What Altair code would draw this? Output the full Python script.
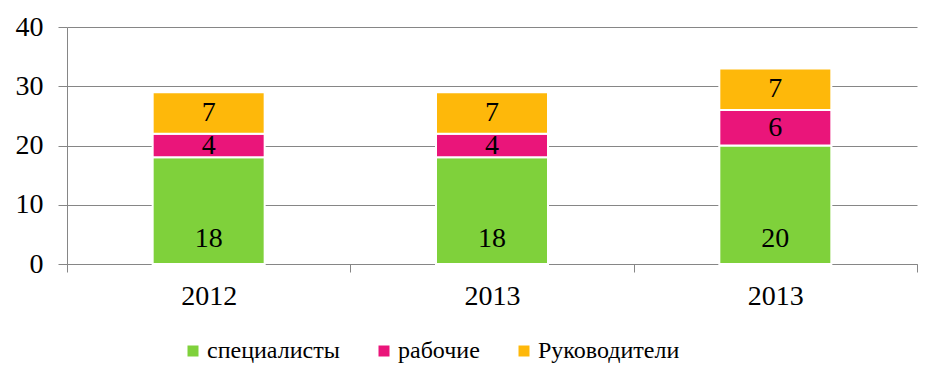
import altair as alt
import pandas as pd

tick_labels = ["2012", "2013", "2013"]
series = ["специалисты", "рабочие", "Руководители"]
colors = ["#7FD13B", "#EA157A", "#FEB80A"]
spec_vals = [18, 18, 20]
rab_vals = [4, 4, 6]
ruk_vals = [7, 7, 7]

rows = []
for i, lab in enumerate(tick_labels):
    start = 0
    for s_i, (name, vals) in enumerate(zip(series, [spec_vals, rab_vals, ruk_vals])):
        v = vals[i]
        rows.append({"idx": i, "series": name, "order": s_i, "value": v,
                     "start": start, "end": start + v, "mid": start + v / 2})
        start += v
df = pd.DataFrame(rows)

FONT = "Liberation Serif"
label_expr = "[" + ",".join(f"'{t}'" for t in tick_labels) + "][datum.value]"

x = alt.X("idx:O", scale=alt.Scale(paddingInner=0, paddingOuter=0),
          axis=alt.Axis(title=None, labelAngle=0, labelExpr=label_expr,
                        tickBand="extent", tickSize=8, labelPadding=10,
                        labelFont=FONT, labelFontSize=28, labelColor="#000000",
                        domainColor="#868686", tickColor="#868686"))
y_scale = alt.Scale(domain=[0, 40], nice=False)

bars = alt.Chart(df).mark_bar(size=112, stroke="#ffffff", strokeWidth=2).encode(
    x=x,
    y=alt.Y("start:Q", scale=y_scale,
            axis=alt.Axis(title=None, values=[0, 10, 20, 30, 40], tickSize=9,
                          labelPadding=15, labelFont=FONT, labelFontSize=28,
                          labelColor="#000000", domainColor="#868686",
                          tickColor="#868686", gridColor="#868686", grid=True)),
    y2="end:Q",
    color=alt.Color("series:N", scale=alt.Scale(domain=series, range=colors),
                    sort=series,
                    legend=alt.Legend(title=None, orient="none", direction="horizontal",
                                      legendX=114, legendY=312, symbolType="square",
                                      symbolSize=121, symbolStrokeWidth=0,
                                      labelFont=FONT, labelFontSize=24,
                                      labelColor="#000000", labelOffset=2,
                                      columnPadding=32)),
    order="order:Q",
)

upper_labels = alt.Chart(df[df["order"] > 0]).mark_text(
    font=FONT, fontSize=28, color="#000000", baseline="middle").encode(
    x=alt.X("idx:O"), y=alt.Y("mid:Q", scale=y_scale), text="value:Q")

base_labels = alt.Chart(df[df["order"] == 0]).mark_text(
    font=FONT, fontSize=28, color="#000000", baseline="middle", dy=-25).encode(
    x=alt.X("idx:O"), y=alt.Y("start:Q", scale=y_scale), text="value:Q")

chart = alt.layer(bars, upper_labels, base_labels).properties(
    width=850, height=237,
    autosize=alt.AutoSizeParams(type="none"),
    padding={"left": 59, "top": 19, "right": 16, "bottom": 110},
).configure(font=FONT).configure_view(stroke=None).configure_legend(
    labelFont=FONT).configure_axis(labelFont=FONT).configure_text(font=FONT)

chart.save("out.html", embed_options={"renderer": "svg", "actions": False})
